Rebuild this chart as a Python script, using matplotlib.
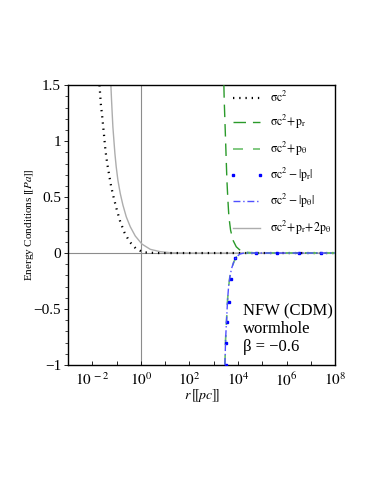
import numpy as np
import matplotlib
matplotlib.use('Agg')
import matplotlib.pyplot as plt
from matplotlib.ticker import FixedLocator, MultipleLocator, NullFormatter

plt.rcParams['font.family'] = ['Liberation Serif', 'DejaVu Sans']
plt.rcParams['mathtext.fontset'] = 'stix'

# values (x given as log10 r, r in pc)
log_r_sigma = [-1.705, -1.650, -1.595, -1.526, -1.457, -1.388, -1.306, -1.223, -1.113,
               -0.989, -0.851, -0.672, -0.466, -0.190, 0.112, 0.665, 8.0]
sigma = [1.500, 1.330, 1.223, 1.069, 0.911, 0.801, 0.696, 0.592, 0.488,
         0.384, 0.280, 0.181, 0.101, 0.036, 0.006, 0.0, 0.0]

log_r_trace = [-1.236, -1.209, -1.182, -1.154, -1.113, -1.071, -1.017, -0.948, -0.851,
               -0.741, -0.603, -0.438, -0.231, 0.044, 0.388, 0.802, 1.215, 2.0, 8.0]
trace = [1.5, 1.366, 1.247, 1.128, 1.009, 0.890, 0.771, 0.652, 0.533,
         0.429, 0.324, 0.235, 0.152, 0.080, 0.033, 0.012, 0.003, 0.0, 0.0]

log_r_upper = [3.418, 3.432, 3.460, 3.488, 3.515, 3.543, 3.584, 3.625, 3.694,
               3.790, 3.928, 4.107, 4.383, 4.8, 8.0]
upper = [1.5, 1.366, 1.188, 1.009, 0.830, 0.652, 0.473, 0.324, 0.205,
         0.116, 0.056, 0.021, 0.006, 0.0, 0.0]

log_r_lower = [3.460, 3.474, 3.488, 3.515, 3.543, 3.570, 3.612, 3.667, 3.736,
               3.832, 3.942, 4.080, 4.245, 8.0]
lower = [-1.0, -0.896, -0.777, -0.658, -0.539, -0.420, -0.301, -0.211, -0.137,
         -0.077, -0.033, -0.009, 0.0, 0.0]

log_r_dots = [3.488, 3.488, 3.558, 3.624, 3.694, 3.870, 4.727, 5.624, 6.517, 7.413]
dots = [-1.0, -0.806, -0.613, -0.435, -0.235, -0.047, 0.0, 0.0, 0.0, 0.0]

x_major = [-2, 0, 2, 4, 6, 8]
y_major = [-1, -0.5, 0, 0.5, 1, 1.5]
y_labels = ['\u22121', '\u22120.5', '0', '0.5', '1', '1.5']

fig = plt.figure(figsize=(3.74, 4.84), dpi=100)
ax = fig.add_axes([0.182, 0.246, 0.714, 0.578])

ax.axhline(0, color='0.55', lw=0.8, zorder=1)
ax.axvline(1, color='0.55', lw=0.8, zorder=1)

ax.plot(np.power(10.0, log_r_trace), trace, color='0.68', lw=1.0,
        label=r'$\mathrm{\sigma c^{2}\!+\!p_{r}\!+\!2p_{\theta}}$', zorder=2)
ax.plot(np.power(10.0, log_r_sigma), sigma, color='black', lw=1.6,
        linestyle=(0, (0.6, 2.2)), dash_capstyle='butt', zorder=3,
        label=r'$\mathrm{\sigma c^{2}}$')
ax.plot(np.power(10.0, log_r_upper), upper, color='#2a9a2a', lw=1.0,
        linestyle=(0, (9, 5)), label=r'$\mathrm{\sigma c^{2}\!+\!p_{r}}$', zorder=3)
ax.plot(np.power(10.0, log_r_lower), lower, color='#6cc06c', lw=1.2,
        linestyle=(0, (6, 6)), label=r'$\mathrm{\sigma c^{2}\!+\!p_{\theta}}$', zorder=3)
ax.plot(np.power(10.0, log_r_dots), dots, color='blue', lw=0, marker='s',
        markersize=1.8, label=r'$\mathrm{\sigma c^{2}-|p_{r}|}$', zorder=4)
ax.plot(np.power(10.0, log_r_lower), lower, color='#5050ff', lw=1.0,
        linestyle=(0, (5, 2, 1, 2)), label=r'$\mathrm{\sigma c^{2}-|p_{\theta}|}$', zorder=4)

ax.set_xscale('log')
ax.set_xlim(1e-3, 1e8)
ax.set_ylim(-1, 1.5)

ax.xaxis.set_major_locator(FixedLocator(np.power(10.0, x_major)))
ax.set_xticklabels([r'$10^{\,%d}$' % e if e < 0 else r'$10^{%d}$' % e for e in x_major])
ax.xaxis.set_minor_locator(FixedLocator(np.power(10.0, np.arange(-3, 9))))
ax.xaxis.set_minor_formatter(NullFormatter())
ax.set_yticks(y_major)
ax.set_yticklabels(y_labels)
ax.yaxis.set_minor_locator(MultipleLocator(0.1))

ax.tick_params(axis='x', which='both', direction='in', length=3, width=0.6,
               labelsize=11, pad=5)
ax.tick_params(axis='y', which='major', direction='out', length=3, width=0.6,
               labelsize=11, pad=2)
ax.tick_params(axis='y', which='minor', direction='out', length=2, width=0.5)
for s in ax.spines.values():
    s.set_linewidth(1.0)

ax.set_xlabel(r'$r\,[\![pc]\!]$', fontsize=10, labelpad=-2)
ax.set_ylabel('Energy Conditions ' + r'$[\![Pa]\!]$', fontsize=8, labelpad=-1.5)

handles, labels = ax.get_legend_handles_labels()
order = [1, 2, 3, 4, 5, 0]
ax.legend([handles[i] for i in order], [labels[i] for i in order],
          loc='upper left', bbox_to_anchor=(0.585, 1.0), borderaxespad=0,
          frameon=False, fontsize=8.5, handlelength=2.9, numpoints=2,
          labelspacing=0.7, handletextpad=0.6)

ax.text(0.655, 0.221, 'NFW (CDM)\nwormhole\n\u03b2 = \u22120.6', transform=ax.transAxes,
        fontsize=12, va='top', ha='left', linespacing=1.15)

fig.savefig('out.png', dpi=100)
